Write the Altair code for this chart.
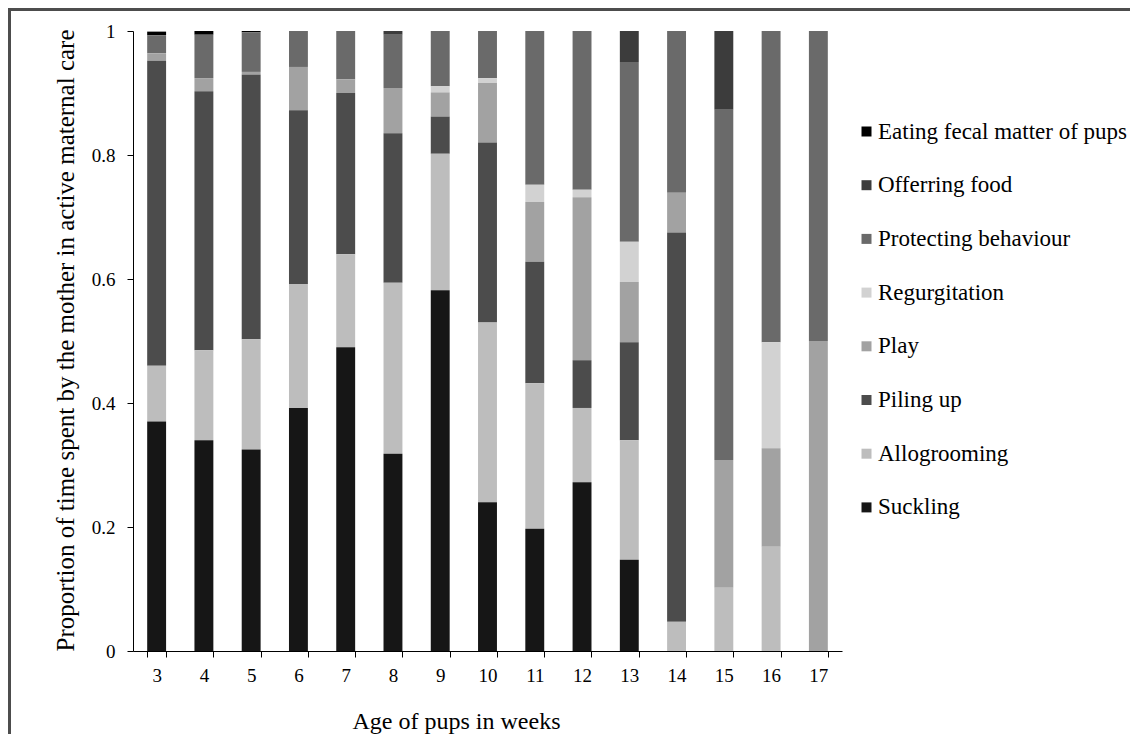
import altair as alt
import pandas as pd

weeks = [3, 4, 5, 6, 7, 8, 9, 10, 11, 12, 13, 14, 15, 16, 17]

categories = [
    "Eating fecal matter of pups",
    "Offerring food",
    "Protecting behaviour",
    "Regurgitation",
    "Play",
    "Piling up",
    "Allogrooming",
    "Suckling",
]

suckling = [0.370, 0.340, 0.325, 0.392, 0.490, 0.318, 0.582, 0.240, 0.197, 0.272, 0.147, 0.0, 0.0, 0.0, 0.0]
allogrooming = [0.090, 0.145, 0.178, 0.200, 0.150, 0.276, 0.220, 0.290, 0.235, 0.120, 0.193, 0.047, 0.102, 0.168, 0.0]
piling_up = [0.492, 0.418, 0.427, 0.280, 0.260, 0.241, 0.060, 0.290, 0.196, 0.077, 0.158, 0.628, 0.0, 0.0, 0.0]
play = [0.012, 0.021, 0.004, 0.070, 0.022, 0.073, 0.039, 0.096, 0.096, 0.263, 0.097, 0.064, 0.206, 0.159, 0.500]
regurgitation = [0.0, 0.0, 0.0, 0.0, 0.0, 0.0, 0.010, 0.008, 0.028, 0.012, 0.065, 0.0, 0.0, 0.171, 0.0]
protecting = [0.029, 0.070, 0.064, 0.058, 0.078, 0.086, 0.089, 0.076, 0.248, 0.256, 0.290, 0.261, 0.565, 0.502, 0.500]
offering_food = [0.0, 0.0, 0.0, 0.0, 0.0, 0.006, 0.0, 0.0, 0.0, 0.0, 0.050, 0.0, 0.127, 0.0, 0.0]
eating_fecal = [0.006, 0.006, 0.002, 0.0, 0.0, 0.0, 0.0, 0.0, 0.0, 0.0, 0.0, 0.0, 0.0, 0.0, 0.0]

series = {
    "Eating fecal matter of pups": eating_fecal,
    "Offerring food": offering_food,
    "Protecting behaviour": protecting,
    "Regurgitation": regurgitation,
    "Play": play,
    "Piling up": piling_up,
    "Allogrooming": allogrooming,
    "Suckling": suckling,
}

colors = ["#000000", "#3c3c3c", "#6a6a6a", "#d2d2d2", "#a2a2a2", "#4c4c4c", "#bdbdbd", "#161616"]

rows = []
for i, cat in enumerate(categories):
    for w, v in zip(weeks, series[cat]):
        rows.append({"week": w, "behaviour": cat, "value": v, "order": len(categories) - 1 - i})
df = pd.DataFrame(rows)

FONT = "Liberation Serif"
W, H = 709, 620
PAD_R = 288

bars = alt.Chart(df).mark_bar().encode(
    x=alt.X(
        "week:O",
        sort=weeks,
        title="Age of pups in weeks",
        scale=alt.Scale(paddingInner=0.6, paddingOuter=0.3),
        axis=alt.Axis(
            labelAngle=0,
            tickBand="extent",
            labelFontSize=19,
            labelPadding=9,
            tickSize=6,
            titleFontSize=24,
            titleBaseline="alphabetic",
            titleAlign="center",
            titleX=323,
            titleY=77,
        ),
    ),
    y=alt.Y(
        "value:Q",
        stack="zero",
        title="Proportion of time spent by the mother in active maternal care",
        scale=alt.Scale(domain=[0, 1], nice=False),
        axis=alt.Axis(
            values=[0, 0.2, 0.4, 0.6, 0.8, 1.0],
            format="~g",
            labelFontSize=19,
            labelPadding=12,
            tickSize=6,
            titleFontSize=25,
            titleBaseline="alphabetic",
            titleAlign="center",
            titleAngle=270,
            titleX=-60,
            titleY=309,
        ),
    ),
    color=alt.Color(
        "behaviour:N",
        scale=alt.Scale(domain=categories, range=colors),
        legend=alt.Legend(
            title=None,
            orient="none",
            legendX=722,
            legendY=89,
            padding=0,
            symbolType="square",
            symbolSize=100,
            symbolStrokeWidth=0,
            labelFontSize=23,
            labelOffset=0,
            labelLimit=400,
            rowPadding=29.7,
        ),
    ),
    order=alt.Order("order:Q", sort="ascending"),
)

frame_top = alt.Chart(df).mark_rule(color="#4d4d4d", strokeWidth=2.5).encode(
    x=alt.value(-125), x2=alt.value(W + PAD_R), y=alt.value(-22)
)
frame_left = alt.Chart(df).mark_rule(color="#4d4d4d", strokeWidth=2.5).encode(
    x=alt.value(-124), y=alt.value(-23), y2=alt.value(H + 83)
)

chart = (
    alt.layer(bars, frame_top, frame_left)
    .properties(
        width=W,
        height=H,
        autosize=alt.AutoSizeParams(type="none"),
        padding={"left": 125, "top": 23, "right": PAD_R, "bottom": 83},
        background="white",
    )
    .configure(font=FONT)
    .configure_view(stroke=None)
    .configure_axis(
        labelFont=FONT,
        titleFont=FONT,
        labelColor="black",
        titleColor="black",
        titleFontWeight="normal",
        tickColor="black",
        domainColor="black",
        grid=False,
    )
    .configure_legend(labelFont=FONT, labelColor="black")
)

chart.save("out.html", embed_options={"renderer": "svg", "actions": False})
